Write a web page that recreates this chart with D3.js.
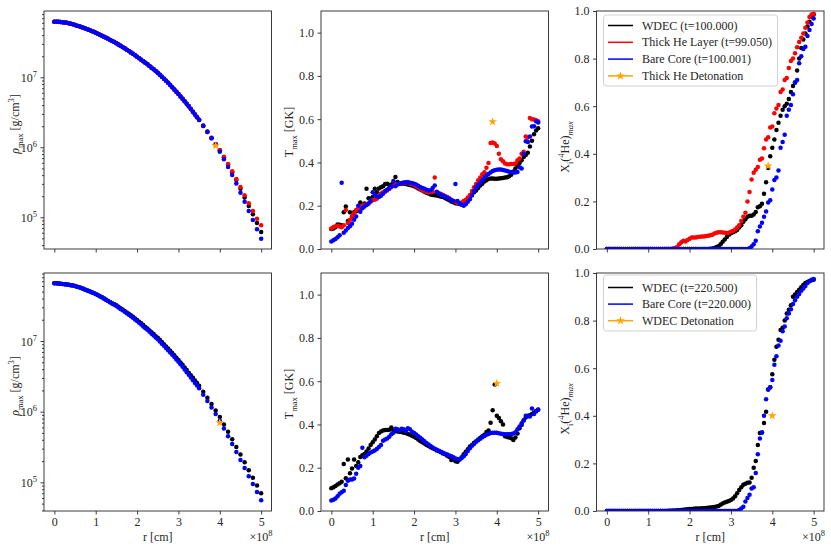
<!DOCTYPE html>
<html>
<head>
<meta charset="utf-8">
<script src="https://cdn.jsdelivr.net/npm/d3@7/dist/d3.min.js"></script>
<style>
html,body{margin:0;padding:0;background:#fff;}
svg{display:block;}
text{font-family:"Liberation Serif","Times New Roman",serif;fill:#262626;}
</style>
</head>
<body>
<svg id="chart" width="831" height="550"></svg>
<script>
// ---------------- DATA ----------------
// radius grid (units of 1e8 cm)
const rGrid = [0,0.05,0.1,0.15,0.2,0.25,0.3,0.35,0.4,0.45,0.5,0.55,0.6,0.65,0.7,0.75,0.8,0.85,0.9,0.95,
  1,1.05,1.1,1.15,1.2,1.25,1.3,1.35,1.4,1.45,1.5,1.55,1.6,1.65,1.7,1.75,1.8,1.85,1.9,1.95,
  2,2.05,2.1,2.15,2.2,2.25,2.3,2.35,2.4,2.45,2.5,2.55,2.6,2.65,2.7,2.75,2.8,2.85,2.9,2.95,
  3,3.05,3.1,3.15,3.2,3.25,3.3,3.35,3.4,3.45,3.5,3.55,3.6,3.65,3.7,3.75,3.8,3.85,3.9,3.95,
  4,4.05,4.1,4.15,4.2,4.25,4.3,4.35,4.4,4.45,4.5,4.55,4.6,4.65,4.7,4.75,4.8,4.85,4.9,4.95,5];
// density grid: fine in the core, coarser in the envelope
const rDens = [0,0.05,0.1,0.15,0.2,0.25,0.3,0.35,0.4,0.45,0.5,0.55,0.6,0.65,0.7,0.75,0.8,0.85,0.9,0.95,
  1,1.05,1.1,1.15,1.2,1.25,1.3,1.35,1.4,1.45,1.5,1.55,1.6,1.65,1.7,1.75,1.8,1.85,1.9,1.95,
  2,2.05,2.1,2.15,2.2,2.25,2.3,2.35,2.4,2.45,2.5,2.55,2.6,2.65,2.7,2.75,2.8,2.85,2.9,2.95,
  3,3.05,3.1,3.15,3.2,3.25,3.3,3.35,3.4,3.45,3.5,
  3.6,3.7,3.8,3.9,4,4.1,4.2,4.3,4.4,4.5,4.6,4.7,4.8,4.9,5];

// ---- top row: t ~ 100 ----
const rhoTopWdec = [6.22e7,6.21e7,6.19e7,6.16e7,6.12e7,6.06e7,6.00e7,5.91e7,5.82e7,5.70e7,
  5.58e7,5.46e7,5.35e7,5.22e7,5.09e7,4.97e7,4.84e7,4.72e7,4.59e7,4.46e7,
  4.34e7,4.20e7,4.06e7,3.93e7,3.80e7,3.67e7,3.55e7,3.42e7,3.30e7,3.18e7,
  3.06e7,2.94e7,2.82e7,2.70e7,2.59e7,2.48e7,2.37e7,2.26e7,2.16e7,2.06e7,
  1.97e7,1.87e7,1.78e7,1.69e7,1.61e7,1.53e7,1.45e7,1.37e7,1.30e7,1.23e7,
  1.16e7,1.09e7,1.02e7,9.56e6,8.93e6,8.33e6,7.76e6,7.21e6,6.70e6,6.22e6,
  5.77e6,5.33e6,4.92e6,4.54e6,4.18e6,3.84e6,3.52e6,3.23e6,2.95e6,2.69e6,
  2.48e6,
  2.05e6,1.68e6,1.37e6,1.10e6,9.06e5,7.23e5,5.66e5,4.40e5,3.40e5,2.55e5,1.91e5,1.45e5,1.10e5,8.28e4,6.15e4];
const rhoTopThick = [6.22e7,6.21e7,6.19e7,6.16e7,6.12e7,6.06e7,6.00e7,5.91e7,5.82e7,5.70e7,
  5.58e7,5.46e7,5.35e7,5.22e7,5.09e7,4.97e7,4.84e7,4.72e7,4.59e7,4.46e7,
  4.34e7,4.20e7,4.06e7,3.93e7,3.80e7,3.67e7,3.55e7,3.42e7,3.30e7,3.18e7,
  3.06e7,2.94e7,2.82e7,2.70e7,2.59e7,2.48e7,2.37e7,2.26e7,2.16e7,2.06e7,
  1.97e7,1.87e7,1.78e7,1.69e7,1.61e7,1.53e7,1.45e7,1.37e7,1.30e7,1.23e7,
  1.16e7,1.09e7,1.02e7,9.56e6,8.93e6,8.33e6,7.76e6,7.21e6,6.70e6,6.22e6,
  5.77e6,5.33e6,4.92e6,4.54e6,4.18e6,3.84e6,3.52e6,3.23e6,2.95e6,2.69e6,
  2.45e6,
  2.02e6,1.65e6,1.34e6,1.10e6,9.06e5,7.31e5,5.79e5,4.55e5,3.52e5,2.70e5,2.07e5,1.58e5,1.23e5,9.51e4,7.66e4];
const rhoTopBare = [6.22e7,6.21e7,6.19e7,6.16e7,6.12e7,6.06e7,6.00e7,5.91e7,5.82e7,5.70e7,
  5.58e7,5.46e7,5.35e7,5.22e7,5.09e7,4.97e7,4.84e7,4.72e7,4.59e7,4.46e7,
  4.34e7,4.20e7,4.06e7,3.93e7,3.80e7,3.67e7,3.55e7,3.42e7,3.30e7,3.18e7,
  3.06e7,2.94e7,2.82e7,2.70e7,2.59e7,2.48e7,2.37e7,2.26e7,2.16e7,2.06e7,
  1.97e7,1.87e7,1.78e7,1.69e7,1.61e7,1.53e7,1.45e7,1.37e7,1.30e7,1.23e7,
  1.16e7,1.09e7,1.02e7,9.56e6,8.93e6,8.33e6,7.76e6,7.21e6,6.70e6,6.22e6,
  5.77e6,5.33e6,4.92e6,4.54e6,4.18e6,3.84e6,3.52e6,3.23e6,2.95e6,2.69e6,
  2.45e6,
  2.02e6,1.65e6,1.34e6,1.08e6,8.65e5,6.75e5,5.22e5,4.01e5,3.03e5,2.24e5,1.67e5,1.23e5,9.12e4,6.73e4,4.94e4];

const tTopWdec = [0.093,0.095,0.100,0.113,0.112,0.110,0.170,0.196,0.129,0.170,
  0.150,0.170,0.175,0.178,0.215,0.190,0.210,0.278,0.235,0.232,
  0.240,0.278,0.262,0.280,0.285,0.290,0.300,0.302,0.296,0.298,
  0.305,0.333,0.310,0.302,0.300,0.302,0.300,0.298,0.296,0.293,
  0.290,0.285,0.280,0.275,0.270,0.265,0.260,0.256,0.252,0.250,
  0.248,0.247,0.245,0.242,0.240,0.236,0.230,0.225,0.220,0.216,
  0.212,0.210,0.208,0.206,0.210,0.218,0.230,0.242,0.255,0.262,
  0.270,0.282,0.293,0.302,0.312,0.318,0.324,0.326,0.326,0.325,
  0.325,0.326,0.327,0.328,0.330,0.332,0.336,0.343,0.358,0.372,
  0.386,0.398,0.410,0.425,0.435,0.445,0.474,0.500,0.530,0.548,0.558];
const tTopThick = [0.095,0.102,0.105,0.107,0.104,0.100,0.110,0.180,0.120,0.135,
  0.150,0.165,0.180,0.188,0.196,0.200,0.205,0.205,0.210,0.218,
  0.225,0.228,0.232,0.245,0.256,0.262,0.265,0.270,0.278,0.285,
  0.292,0.296,0.300,0.300,0.302,0.305,0.306,0.310,0.302,0.300,
  0.297,0.290,0.285,0.278,0.273,0.268,0.265,0.262,0.262,0.265,
  0.330,0.265,0.258,0.254,0.250,0.245,0.240,0.234,0.228,0.222,
  0.218,0.214,0.210,0.215,0.222,0.228,0.238,0.250,0.268,0.285,
  0.300,0.318,0.330,0.345,0.355,0.375,0.398,0.490,0.492,0.488,
  0.476,0.440,0.415,0.405,0.395,0.392,0.392,0.393,0.393,0.395,
  0.410,0.418,0.440,0.450,0.520,0.515,0.605,0.600,0.598,0.595,0.590];
const tTopBare = [0.035,0.040,0.046,0.054,0.063,0.306,0.075,0.086,0.097,0.105,
  0.117,0.135,0.150,0.200,0.172,0.188,0.196,0.203,0.210,0.222,
  0.262,0.248,0.243,0.240,0.246,0.255,0.268,0.275,0.280,0.290,
  0.314,0.290,0.298,0.302,0.305,0.307,0.308,0.307,0.306,0.305,
  0.302,0.298,0.292,0.287,0.282,0.278,0.274,0.270,0.272,0.282,
  0.293,0.263,0.256,0.251,0.247,0.242,0.237,0.232,0.227,0.222,
  0.300,0.222,0.212,0.205,0.200,0.207,0.218,0.230,0.247,0.268,
  0.285,0.297,0.307,0.318,0.330,0.340,0.347,0.354,0.360,0.364,
  0.366,0.367,0.367,0.365,0.363,0.360,0.357,0.355,0.354,0.354,
  0.356,0.378,0.372,0.440,0.498,0.495,0.520,0.566,0.567,0.590,0.585];

const xTopWdec = [0,0,0,0,0,0,0,0,0,0, 0,0,0,0,0,0,0,0,0,0, 0,0,0,0,0,0,0,0,0,0,
  0,0,0,0,0,0,0,0,0,0, 0,0,0,0,0,0,0,0,0,0,
  0.001,0.002,0.004,0.008,0.012,0.020,0.030,0.040,0.050,0.060,
  0.066,0.070,0.075,0.080,0.090,0.100,0.115,0.125,0.136,0.140,
  0.140,0.145,0.155,0.175,0.180,0.190,0.232,0.280,0.340,0.390,
  0.425,0.460,0.500,0.530,0.560,0.585,0.600,0.610,0.630,0.660,
  0.685,0.700,0.750,0.800,0.845,0.880,0.905,0.935,0.955,0.975,0.985];
const xTopThick = [0,0,0,0,0,0,0,0,0,0, 0,0,0,0,0,0,0,0,0,0, 0,0,0,0,0,0,0,0,0,0,
  0,0,0.002,0.004,0.008,0.020,0.028,0.035,0.031,0.038,
  0.043,0.048,0.048,0.048,0.050,0.051,0.052,0.053,0.055,0.056,
  0.058,0.060,0.065,0.068,0.070,0.070,0.069,0.068,0.067,0.068,
  0.072,0.076,0.082,0.090,0.100,0.118,0.135,0.152,0.200,0.240,
  0.292,0.320,0.333,0.345,0.375,0.380,0.423,0.460,0.470,0.510,
  0.515,0.570,0.590,0.605,0.660,0.670,0.710,0.718,0.760,0.790,
  0.800,0.822,0.848,0.870,0.888,0.905,0.930,0.952,0.975,0.985,0.988];
const xTopBare = [0,0,0,0,0,0,0,0,0,0, 0,0,0,0,0,0,0,0,0,0, 0,0,0,0,0,0,0,0,0,0,
  0,0,0,0,0,0,0,0,0,0, 0,0,0,0,0,0,0,0,0,0, 0,0,0,0,0,0,0,0,0,0,
  0,0,0,0,0,0,0,0,0,0.003,
  0.010,0.020,0.035,0.075,0.095,0.110,0.135,0.158,0.195,0.205,
  0.250,0.290,0.300,0.330,0.425,0.450,0.480,0.560,0.585,0.605,
  0.650,0.700,0.710,0.780,0.810,0.840,0.850,0.895,0.920,0.945,0.968];

// ---- bottom row: t ~ 220 ----
const rhoBotWdec = [6.56e7,6.55e7,6.53e7,6.49e7,6.44e7,6.38e7,6.31e7,6.25e7,6.18e7,6.10e7,
  6.01e7,5.88e7,5.75e7,5.62e7,5.48e7,5.34e7,5.20e7,5.06e7,4.92e7,4.78e7,
  4.63e7,4.47e7,4.31e7,4.15e7,3.99e7,3.84e7,3.69e7,3.54e7,3.40e7,3.31e7,
  3.20e7,3.06e7,2.92e7,2.79e7,2.66e7,2.54e7,2.43e7,2.32e7,2.20e7,2.09e7,
  1.99e7,1.88e7,1.78e7,1.68e7,1.58e7,1.50e7,1.41e7,1.33e7,1.26e7,1.17e7,
  1.11e7,1.04e7,9.66e6,9.00e6,8.39e6,7.81e6,7.26e6,6.75e6,6.27e6,5.82e6,
  5.41e6,4.98e6,4.60e6,4.22e6,3.88e6,3.57e6,3.27e6,3.01e6,2.76e6,2.54e6,
  2.32e6,
  1.91e6,1.57e6,1.28e6,1.04e6,8.40e5,6.59e5,5.18e5,4.06e5,3.17e5,2.47e5,1.92e5,1.48e5,1.16e5,9.02e4,7.00e4];
const rhoBotBare = [6.56e7,6.55e7,6.53e7,6.49e7,6.44e7,6.38e7,6.31e7,6.25e7,6.18e7,6.10e7,
  6.01e7,5.88e7,5.75e7,5.62e7,5.48e7,5.34e7,5.20e7,5.06e7,4.92e7,4.78e7,
  4.63e7,4.47e7,4.31e7,4.15e7,3.99e7,3.84e7,3.69e7,3.54e7,3.40e7,3.27e7,
  3.13e7,2.99e7,2.85e7,2.72e7,2.59e7,2.47e7,2.35e7,2.24e7,2.13e7,2.02e7,
  1.92e7,1.81e7,1.71e7,1.61e7,1.52e7,1.44e7,1.35e7,1.27e7,1.20e7,1.12e7,
  1.06e7,9.85e6,9.18e6,8.55e6,7.96e6,7.40e6,6.87e6,6.38e6,5.92e6,5.49e6,
  5.09e6,4.68e6,4.31e6,3.95e6,3.62e6,3.32e6,3.04e6,2.79e6,2.55e6,2.34e6,
  2.14e6,
  1.74e6,1.42e6,1.15e6,9.25e5,7.43e5,5.78e5,4.49e5,3.48e5,2.69e5,2.07e5,1.59e5,1.22e5,9.44e4,7.28e4,5.60e4];

const tBotWdec = [0.105,0.110,0.116,0.122,0.128,0.135,0.217,0.151,0.238,0.175,
  0.197,0.238,0.208,0.225,0.250,0.258,0.263,0.275,0.289,0.305,
  0.318,0.330,0.345,0.360,0.368,0.372,0.374,0.374,0.376,0.386,
  0.372,0.370,0.368,0.366,0.365,0.362,0.360,0.356,0.352,0.348,
  0.343,0.337,0.330,0.324,0.318,0.312,0.305,0.300,0.295,0.290,
  0.285,0.280,0.276,0.272,0.266,0.262,0.255,0.250,0.236,0.240,
  0.230,0.228,0.238,0.248,0.262,0.274,0.285,0.298,0.305,0.315,
  0.322,0.330,0.338,0.345,0.352,0.365,0.372,0.408,0.466,0.585,
  0.440,0.430,0.415,0.400,0.345,0.342,0.340,0.336,0.328,0.340,
  0.358,0.382,0.398,0.418,0.432,0.440,0.442,0.448,0.455,0.462,0.468];
const tBotBare = [0.048,0.052,0.058,0.068,0.080,0.087,0.094,0.120,0.140,0.146,
  0.146,0.150,0.172,0.200,0.208,0.292,0.248,0.255,0.263,0.270,
  0.275,0.280,0.287,0.296,0.305,0.325,0.330,0.335,0.343,0.355,
  0.362,0.380,0.378,0.372,0.380,0.378,0.370,0.382,0.378,0.366,
  0.360,0.354,0.346,0.338,0.331,0.322,0.314,0.307,0.300,0.294,
  0.288,0.283,0.279,0.274,0.269,0.265,0.261,0.257,0.253,0.248,
  0.243,0.240,0.238,0.245,0.253,0.263,0.277,0.290,0.302,0.310,
  0.320,0.327,0.334,0.341,0.347,0.352,0.356,0.360,0.362,0.362,
  0.362,0.359,0.357,0.356,0.355,0.355,0.355,0.356,0.358,0.364,
  0.378,0.390,0.405,0.420,0.440,0.438,0.437,0.474,0.448,0.460,0.469];

const xBotWdec = [0,0,0,0,0,0,0,0,0,0, 0,0,0,0,0,0,0,0,0,0, 0,0,0,0,0,0,0,0,0,0,
  0.001,0.001,0.002,0.002,0.003,0.003,0.004,0.005,0.006,0.007,
  0.008,0.008,0.009,0.010,0.011,0.011,0.012,0.012,0.013,0.014,
  0.015,0.016,0.017,0.019,0.021,0.026,0.032,0.036,0.039,0.042,
  0.046,0.052,0.062,0.075,0.088,0.100,0.110,0.115,0.119,0.120,
  0.140,0.182,0.210,0.277,0.328,0.330,0.370,0.417,0.510,0.520,
  0.575,0.636,0.690,0.720,0.760,0.770,0.800,0.830,0.846,0.865,
  0.900,0.910,0.920,0.930,0.940,0.950,0.958,0.962,0.966,0.970,0.972];
const xBotBare = [0,0,0,0,0,0,0,0,0,0, 0,0,0,0,0,0,0,0,0,0, 0,0,0,0,0,0,0,0,0,0,
  0,0,0,0,0,0,0,0,0,0, 0,0,0,0,0,0,0,0,0,0, 0,0,0,0,0,0,0,0,0,0,
  0,0,0,0,0.004,0.010,0.018,0.040,0.055,0.068,
  0.095,0.100,0.160,0.238,0.305,0.330,0.400,0.470,0.510,0.520,
  0.550,0.615,0.650,0.695,0.715,0.755,0.775,0.810,0.830,0.848,
  0.870,0.885,0.900,0.912,0.925,0.935,0.945,0.958,0.965,0.972,0.975];

// detonation points [top row, bottom row]
const detR   = [3.9, 4.0];
const detRho = [1.05e6, 7.0e5];
const detT   = [0.588, 0.590];
const detX   = [0.349, 0.400];

// labels & ticks
const legendTop = ["WDEC (t=100.000)", "Thick He Layer (t=99.050)", "Bare Core (t=100.001)", "Thick He Detonation"];
const legendBot = ["WDEC (t=220.500)", "Bare Core (t=220.000)", "WDEC Detonation"];
const xTicks = [0,1,2,3,4,5];
const linTicks = [0,0.2,0.4,0.6,0.8,1.0];
const logTicks = [1e5,1e6,1e7];
const logTickExp = ["5","6","7"];

// ---------------- LAYOUT ----------------
const svg = d3.select('#chart');
const colX = [44, 321, 596.5], PW = 227.5;
const rowY = [11, 273], PH = 238;
const C = {wdec:'#000000', thick:'#ff0000', bare:'#0000ff', det:'#ffa500'};
const INK = '#262626';
const FS = 12;
const FONT = '"Liberation Serif","Times New Roman",serif';
let clipN = 0;

function makePanel(ci, ri, y) {
  const x0 = colX[ci], y0 = rowY[ri];
  const g = svg.append('g').attr('transform', `translate(${x0},${y0})`);
  const x = d3.scaleLinear().domain([-0.25, 5.25]).range([0, PW]);
  const id = 'clip' + (clipN++);
  svg.append('clipPath').attr('id', id).append('rect')
    .attr('x', 0).attr('y', 0).attr('width', PW).attr('height', PH);
  const plot = g.append('g').attr('clip-path', `url(#${id})`);
  return {g, plot, x, y, x0, y0, ri, ci};
}
function styleAxis(a) {
  a.attr('font-family', FONT).attr('font-size', FS);
  a.select('.domain').remove();
  a.selectAll('line').attr('stroke', INK).attr('stroke-width', 0.9);
  a.selectAll('text').attr('fill', INK);
}
function xAxis(p) {
  const ax = d3.axisBottom(p.x).tickValues(xTicks).tickSize(3.5).tickPadding(3)
    .tickFormat(p.ri === 1 ? d3.format('d') : () => '');
  const a = p.g.append('g').attr('transform', `translate(0,${PH})`).call(ax);
  styleAxis(a);
  if (p.ri === 1) {
    p.g.append('text').attr('x', PW / 2).attr('y', 541 - p.y0).attr('text-anchor', 'middle')
      .attr('font-size', 12).text('r [cm]');
    const off = p.g.append('text').attr('x', PW + 1).attr('y', 541 - p.y0).attr('text-anchor', 'end')
      .attr('font-size', FS);
    off.append('tspan').text('×10');
    off.append('tspan').attr('font-size', 8.5).attr('dy', -5).text('8');
  }
}
function linYAxis(p) {
  const ax = d3.axisLeft(p.y).tickValues(linTicks).tickSize(3.5).tickPadding(3.5).tickFormat(d3.format('.1f'));
  styleAxis(p.g.append('g').call(ax));
}
function logYAxis(p) {
  const ax = d3.axisLeft(p.y).tickValues(logTicks).tickSize(3.5).tickFormat(() => '');
  styleAxis(p.g.append('g').call(ax));
  const minors = p.y.ticks().filter(v => logTicks.indexOf(v) < 0);
  const axm = d3.axisLeft(p.y).tickValues(minors).tickSize(2).tickFormat(() => '');
  styleAxis(p.g.append('g').call(axm));
  logTicks.forEach((v, i) => {
    const t = p.g.append('text').attr('x', -7).attr('y', p.y(v)).attr('dy', '0.38em')
      .attr('text-anchor', 'end').attr('font-size', FS);
    t.append('tspan').text('10');
    t.append('tspan').attr('font-size', 8.5).attr('dy', -5).text(logTickExp[i]);
  });
}
function frame(p) {
  p.g.append('rect').attr('x', 0).attr('y', 0).attr('width', PW).attr('height', PH)
    .attr('fill', 'none').attr('stroke', INK).attr('stroke-width', 0.9);
}
function dots(p, xs, ys, color) {
  p.plot.append('g').selectAll('circle').data(ys).join('circle')
    .attr('cx', (d, i) => p.x(xs[i])).attr('cy', d => p.y(d)).attr('r', 2.25).attr('fill', color);
}
const starSym = d3.symbol().type(d3.symbolStar).size(24);
function star(p, rv, v) {
  p.plot.append('path').attr('d', starSym()).attr('fill', C.det)
    .attr('transform', `translate(${p.x(rv)},${p.y(v)})`);
}
function yLabel(x, yc, parts) {
  const t = svg.append('text').attr('transform', `translate(${x},${yc}) rotate(-90)`)
    .attr('text-anchor', 'middle').attr('font-size', 12);
  let shift = 0;
  parts.forEach(([s, kind]) => {
    let target = 0, fs = 12, it = false;
    if (kind === 'sub' || kind === 'subit') { target = 3.5; fs = 8.5; it = kind === 'subit'; }
    if (kind === 'sup') { target = -5; fs = 8.5; }
    if (kind === 'it') it = true;
    const ts = t.append('tspan').attr('dy', target - shift).attr('font-size', fs).text(s);
    if (it) ts.attr('font-style', 'italic');
    shift = target;
  });
}
function legend(p, labels, colors, boxTop, first, rowH, boxH) {
  const lg = p.g.append('g');
  const bx = 7, by = boxTop - p.y0;
  const box = lg.append('rect').attr('x', bx).attr('y', by).attr('height', boxH)
    .attr('rx', 3).attr('fill', '#fff').attr('fill-opacity', 0.85).attr('stroke', '#cccccc').attr('stroke-width', 0.9);
  let maxW = 0;
  labels.forEach((lab, i) => {
    const yy = by + first + i * rowH;
    lg.append('line').attr('x1', 11.5).attr('x2', 36.5).attr('y1', yy).attr('y2', yy)
      .attr('stroke', colors[i]).attr('stroke-width', 1.5);
    if (i === labels.length - 1) {
      lg.append('path').attr('d', starSym()).attr('fill', C.det).attr('transform', `translate(24,${yy})`);
    }
    const t = lg.append('text').attr('x', 45.5).attr('y', yy).attr('dy', '0.34em').attr('font-size', FS).text(lab);
    maxW = Math.max(maxW, t.node().getComputedTextLength());
  });
  box.attr('width', 45.5 + maxW + 5.5 - bx);
}

// ---------------- PANELS ----------------
const rhoTop = makePanel(0, 0, d3.scaleLog().domain([3.52e4, 8.85e7]).range([PH, 0]));
const tTop = makePanel(1, 0, d3.scaleLinear().domain([0, 1.1]).range([PH, 0]));
const xTop = makePanel(2, 0, d3.scaleLinear().domain([0, 1]).range([PH, 0]));
const rhoBot = makePanel(0, 1, d3.scaleLog().domain([3.93e4, 9.18e7]).range([PH, 0]));
const tBot = makePanel(1, 1, d3.scaleLinear().domain([0, 1.1]).range([PH, 0]));
const xBot = makePanel(2, 1, d3.scaleLinear().domain([0, 1]).range([PH, 0]));

// top row data
dots(rhoTop, rDens, rhoTopWdec, C.wdec); dots(rhoTop, rDens, rhoTopThick, C.thick); dots(rhoTop, rDens, rhoTopBare, C.bare);
star(rhoTop, detR[0], detRho[0]);
dots(tTop, rGrid, tTopWdec, C.wdec); dots(tTop, rGrid, tTopThick, C.thick); dots(tTop, rGrid, tTopBare, C.bare);
star(tTop, detR[0], detT[0]);
dots(xTop, rGrid, xTopWdec, C.wdec); dots(xTop, rGrid, xTopThick, C.thick); dots(xTop, rGrid, xTopBare, C.bare);
star(xTop, detR[0], detX[0]);
// bottom row data
dots(rhoBot, rDens, rhoBotWdec, C.wdec); dots(rhoBot, rDens, rhoBotBare, C.bare);
star(rhoBot, detR[1], detRho[1]);
dots(tBot, rGrid, tBotWdec, C.wdec); dots(tBot, rGrid, tBotBare, C.bare);
star(tBot, detR[1], detT[1]);
dots(xBot, rGrid, xBotWdec, C.wdec); dots(xBot, rGrid, xBotBare, C.bare);
star(xBot, detR[1], detX[1]);

[rhoTop, tTop, xTop, rhoBot, tBot, xBot].forEach(p => { xAxis(p); frame(p); });
logYAxis(rhoTop); logYAxis(rhoBot);
linYAxis(tTop); linYAxis(tBot); linYAxis(xTop); linYAxis(xBot);

// axis labels
const rhoLab = [["ρ", "it"], ["max", "sub"], [" [g/cm", "n"], ["3", "sup"], ["]", "n"]];
const tLab = [["T", "n"], ["max", "sub"], [" [GK]", "n"]];
const xLab = [["X", "n"], ["i", "sub"], ["(", "n"], ["4", "sup"], ["He)", "n"], ["max", "subit"]];
[0, 1].forEach(ri => {
  const yc = rowY[ri] + PH / 2;
  yLabel(19, yc - 6, rhoLab);
  yLabel(293, yc + 2, tLab);
  yLabel(569, yc + 17, xLab);
});

legend(xTop, legendTop, [C.wdec, C.thick, C.bare, C.det], 15, 10.5, 16.8, 71);
legend(xBot, legendBot, [C.wdec, C.bare, C.det], 275, 12.5, 16.6, 56);
</script>
</body>
</html>
